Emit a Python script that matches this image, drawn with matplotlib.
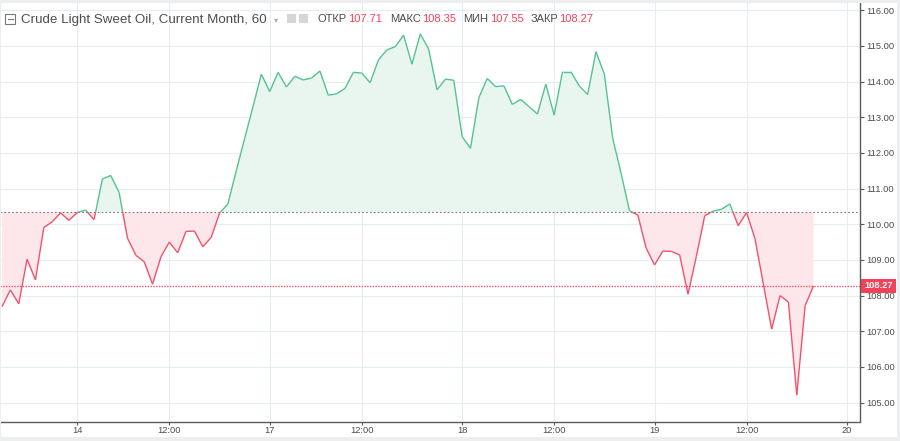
import numpy as np
import matplotlib
matplotlib.use("Agg")
import matplotlib.pyplot as plt
from matplotlib.collections import LineCollection
from matplotlib.patches import Rectangle

# ---------------- data ----------------
prices = [107.69, 108.16, 107.77, 109.02, 108.44, 109.91, 110.07, 110.32, 110.11, 110.33,
          110.40, 110.13, 111.27, 111.37, 110.89, 109.61, 109.13, 108.95, 108.32, 109.09,
          109.50, 109.20, 109.80, 109.81, 109.37, 109.63, 110.31, 110.57, 111.50, 112.40,
          113.30, 114.21, 113.72, 114.26, 113.85, 114.15, 114.05, 114.10, 114.30, 113.62,
          113.66, 113.81, 114.26, 114.24, 113.97, 114.61, 114.89, 114.98, 115.30, 114.49,
          115.34, 114.91, 113.77, 114.07, 114.04, 112.46, 112.13, 113.55, 114.09, 113.86,
          113.88, 113.36, 113.50, 113.30, 113.09, 113.93, 113.06, 114.28, 114.28, 113.88,
          113.64, 114.84, 114.21, 112.41, 111.43, 110.38, 110.26, 109.33, 108.86, 109.25,
          109.24, 109.14, 108.04, 109.10, 110.24, 110.37, 110.42, 110.57, 109.96, 110.33,
          109.60, 108.33, 107.06, 108.00, 107.82, 105.21, 107.72, 108.27]
baseline = 110.34
last_price = 108.27
tick_bars = [9, 20, 32, 43, 55, 66, 78, 89, 101]
tick_labels = ["14", "12:00", "17", "12:00", "18", "12:00", "19", "12:00", "20"]
y_ticks = [105, 106, 107, 108, 109, 110, 111, 112, 113, 114, 115, 116]
title = "Crude Light Sweet Oil, Current Month, 60"
ohlc_names = ["ОТКР", "МАКС", "МИН", "ЗАКР"]
ohlc_values = ["107.71", "108.35", "107.55", "108.27"]

# ---------------- style ----------------
W, H = 900, 441
GREEN = "#56c293"
RED = "#f2526b"
GREEN_FILL = "#e8f6ef"
RED_FILL = "#fde7ea"
GRID = "#e6edf1"
AXIS = "#5a5a5a"
TXT = "#4d4d4d"
plt.rcParams["font.family"] = ["Liberation Sans", "DejaVu Sans"]

fig = plt.figure(figsize=(W / 100, H / 100), dpi=100, facecolor="white")

def fx(x):
    return x / W

def fy(y):
    return 1 - y / H

ax = fig.add_axes([fx(0), fy(421.5), fx(860), fy(3) - fy(421.5)])
ax.set_facecolor("white")

x = np.arange(len(prices), dtype=float)
y = np.array(prices)

# insert baseline crossings
xs, ys = [x[0]], [y[0]]
for i in range(len(x) - 1):
    y0, y1 = y[i], y[i + 1]
    if (y0 - baseline) * (y1 - baseline) < 0:
        t = (baseline - y0) / (y1 - y0)
        xs.append(x[i] + t)
        ys.append(baseline)
    xs.append(x[i + 1])
    ys.append(y[i + 1])
xs = np.array(xs)
ys = np.array(ys)

ax.fill_between(xs, ys, baseline, where=ys >= baseline - 1e-9, color=GREEN_FILL, lw=0, zorder=1)
ax.fill_between(xs, ys, baseline, where=ys <= baseline + 1e-9, color=RED_FILL, lw=0, zorder=1)

segs, cols = [], []
for i in range(len(xs) - 1):
    segs.append([(xs[i], ys[i]), (xs[i + 1], ys[i + 1])])
    mid = (ys[i] + ys[i + 1]) / 2
    cols.append(GREEN if mid > baseline else RED)
lc = LineCollection(segs, colors=cols, linewidths=1.0, zorder=4)
ax.add_collection(lc)

ax.axhline(baseline, color="#7a7a7a", lw=0.8, ls=(0, (1.5, 2)), zorder=3)
ax.axhline(last_price, color=RED, lw=1.0, ls=(0, (1, 1)), zorder=3)

ax.set_xlim(-2.0 / 8.366, 858 / 8.366)
ax.set_ylim(104.47, 116.205)

ax.set_xticks(tick_bars)
ax.set_xticklabels(tick_labels)
ax.set_yticks(y_ticks)
ax.set_yticklabels([f"{v:.2f}" for v in y_ticks])
ax.yaxis.tick_right()
ax.grid(True, color=GRID, lw=0.8, zorder=0)
ax.set_axisbelow(True)
ax.tick_params(axis="y", colors=AXIS, labelsize=6.7, length=3, width=0.8, pad=1.5, labelcolor=TXT)
ax.tick_params(axis="x", colors=AXIS, labelsize=6.7, length=2.5, width=0.8, pad=1, labelcolor=TXT)
for s in ["top", "left"]:
    ax.spines[s].set_visible(False)
for s in ["right", "bottom"]:
    ax.spines[s].set_color(AXIS)
    ax.spines[s].set_linewidth(1.0)

ax.annotate(f"{last_price:.2f}", xy=(1.0, last_price), xycoords=("axes fraction", "data"),
            xytext=(3.2, 0), textcoords="offset points", ha="left", va="center",
            fontsize=6.7, fontweight="bold", color="white",
            bbox=dict(boxstyle="square,pad=0.32", fc="#f0435a", ec="none"),
            annotation_clip=False, zorder=10)

# gray frame bands
BAND = "#eceef0"
fig.patches.append(Rectangle((0, fy(3)), 1, 1 - fy(3), transform=fig.transFigure, fc=BAND, ec="none", zorder=0))
fig.patches.append(Rectangle((0, 0), 1, fy(436.5), transform=fig.transFigure, fc=BAND, ec="none", zorder=0))
fig.patches.append(Rectangle((fx(897), 0), 1 - fx(897), 1, transform=fig.transFigure, fc=BAND, ec="none", zorder=0))
fig.patches.append(Rectangle((0, 0), fx(1.2), 1, transform=fig.transFigure, fc=BAND, ec="none", zorder=20))

# header
fig.patches.append(Rectangle((fx(5), fy(24)), fx(10), fy(14) - fy(24), transform=fig.transFigure,
                             fc="white", ec="#777777", lw=0.8, zorder=5))
fig.lines.append(plt.Line2D([fx(7.5), fx(12.5)], [fy(19), fy(19)], transform=fig.transFigure, color="#777777", lw=0.8, zorder=6))
fig.text(fx(21), fy(19.5), title, fontsize=9.6, color=TXT, ha="left", va="center")
fig.text(fx(274), fy(19.5), "▾", fontsize=6, color="#aaaaaa", ha="left", va="center", family="DejaVu Sans")
for bx in [287, 299]:
    fig.patches.append(Rectangle((fx(bx), fy(23)), fx(9), fy(14) - fy(23), transform=fig.transFigure,
                                 fc="#d6d6d6", ec="none", zorder=5))
name_x = [317, 390, 463, 531]
val_x = [348, 422, 490, 559]
for n, v, nx, vx in zip(ohlc_names, ohlc_values, name_x, val_x):
    fig.text(fx(nx), fy(19.5), n, fontsize=8.0, color=TXT, ha="left", va="center")
    fig.text(fx(vx), fy(19.5), v, fontsize=8.0, color="#f0435a", ha="left", va="center")

fig.savefig("out.png", dpi=100, facecolor="white")
